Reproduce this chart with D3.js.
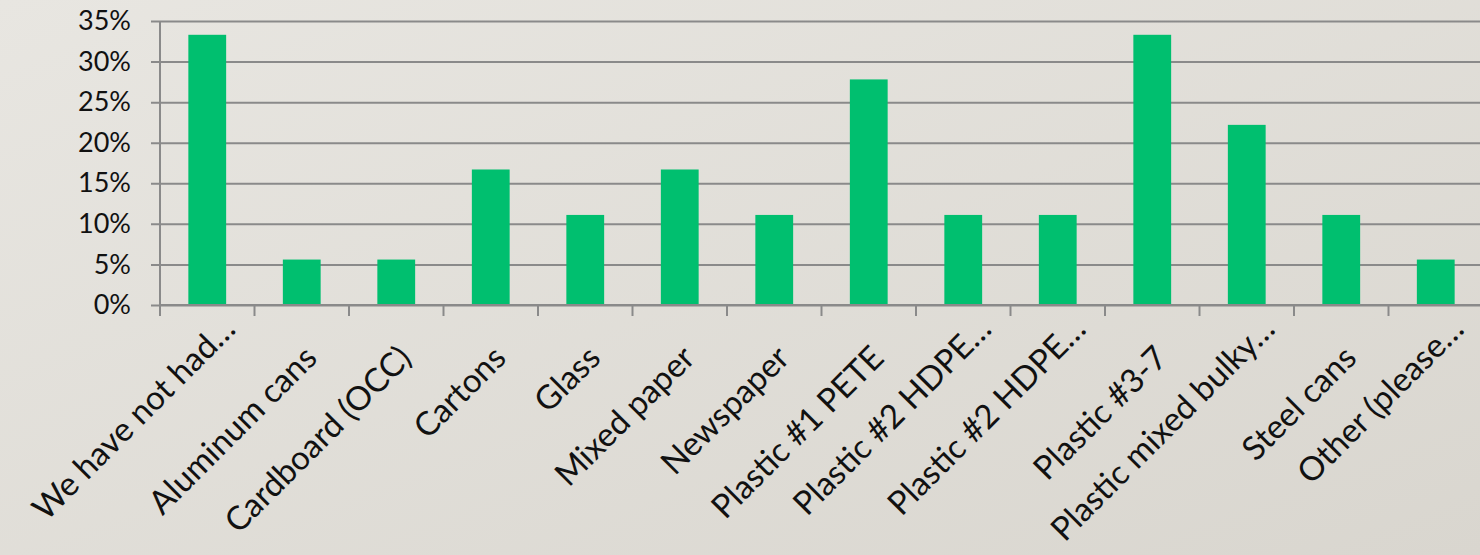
<!DOCTYPE html>
<html>
<head>
<meta charset="utf-8">
<script src="https://cdn.jsdelivr.net/npm/d3@7"></script>
<style>
  html, body { margin: 0; padding: 0; }
  body { width: 1480px; height: 555px; overflow: hidden; }
  svg { display: block; }
</style>
</head>
<body>
<div id="chart"></div>
<script>
// data
var categories = ["We have not had\u2026", "Aluminum cans", "Cardboard (OCC)", "Cartons", "Glass",
    "Mixed paper", "Newspaper", "Plastic #1 PETE", "Plastic #2 HDPE\u2026", "Plastic #2 HDPE\u2026",
    "Plastic #3-7", "Plastic mixed bulky\u2026", "Steel cans", "Other (please\u2026"];
var values = [33.3, 5.6, 5.6, 16.7, 11.1, 16.7, 11.1, 27.8, 11.1, 11.1, 33.3, 22.2, 11.1, 5.6];
var yTicks = [0, 5, 10, 15, 20, 25, 30, 35];

var width = 1480;
var height = 555;
var plotLeft = 160, plotRight = 1483, plotTop = 21, plotBottom = 305;
var font = "Lato, 'Open Sans', sans-serif";

var svg = d3.select("#chart")
    .append("svg")
    .attr("width", width)
    .attr("height", height);

// background
var grad = svg.append("defs").append("linearGradient")
    .attr("id", "bg")
    .attr("x1", "0%").attr("y1", "0%")
    .attr("x2", "100%").attr("y2", "100%");
grad.append("stop").attr("offset", "0%").attr("stop-color", "#e8e6e1");
grad.append("stop").attr("offset", "100%").attr("stop-color", "#d9d6cf");
svg.append("rect")
    .attr("width", width)
    .attr("height", height)
    .attr("fill", "url(#bg)");

var x = d3.scaleBand()
    .domain(d3.range(categories.length))
    .range([plotLeft, plotRight])
    .paddingInner(0.6)
    .paddingOuter(0.3);

var y = d3.scaleLinear()
    .domain([0, 35])
    .range([plotBottom, plotTop]);

// grid lines + y labels
svg.append("g")
    .attr("transform", "translate(" + plotLeft + ",0)")
    .call(d3.axisLeft(y).tickValues(yTicks).tickSize(-(width - plotLeft)).tickSizeOuter(0).tickPadding(29)
        .tickFormat(function (d) { return d + "%"; }))
    .call(function (g) {
        g.select(".domain").remove();
        g.selectAll(".tick line").attr("stroke", "#8a8a8a").attr("stroke-width", 2)
            .attr("x1", -9);
        g.selectAll(".tick text")
            .attr("fill", "#111")
            .attr("font-family", font)
            .attr("font-size", "27px");
    });

// y axis line
svg.append("line")
    .attr("x1", plotLeft).attr("x2", plotLeft)
    .attr("y1", plotTop).attr("y2", plotBottom + 11)
    .attr("stroke", "#8a8a8a")
    .attr("stroke-width", 2);

// bars
svg.append("g")
    .selectAll("rect")
    .data(values)
    .join("rect")
    .attr("x", function (d, i) { return x(i); })
    .attr("y", function (d) { return y(d); })
    .attr("width", x.bandwidth())
    .attr("height", function (d) { return y(0) - y(d); })
    .attr("fill", "#00bf6f");

// x axis: category boundary ticks
var step = x.step();
var xAxis = d3.axisBottom(x)
    .tickSize(0)
    .tickFormat(function (i) { return categories[i]; });
var gx = svg.append("g")
    .attr("transform", "translate(0," + plotBottom + ")")
    .call(xAxis);
gx.select(".domain").remove();
gx.append("line")
    .attr("x1", plotLeft).attr("x2", width)
    .attr("stroke", "#8a8a8a").attr("stroke-width", 2);
gx.selectAll(".sep")
    .data(d3.range(categories.length))
    .join("line")
    .attr("class", "sep")
    .attr("x1", function (i) { return x(i) + x.bandwidth() / 2 - step / 2; })
    .attr("x2", function (i) { return x(i) + x.bandwidth() / 2 - step / 2; })
    .attr("y1", 0).attr("y2", 11)
    .attr("stroke", "#8a8a8a").attr("stroke-width", 2);
// truncated labels sit a bit higher and further right, like the original
gx.selectAll(".tick text")
    .attr("fill", "#111")
    .attr("font-family", font)
    .attr("font-size", "33px")
    .attr("text-anchor", "end")
    .attr("dy", null)
    .attr("y", 0)
    .attr("transform", function (i) {
        var cut = categories[i].slice(-1) === "\u2026";
        return cut ? "translate(30,26) rotate(-45)" : "translate(17,55) rotate(-45)";
    });
</script>
</body>
</html>
